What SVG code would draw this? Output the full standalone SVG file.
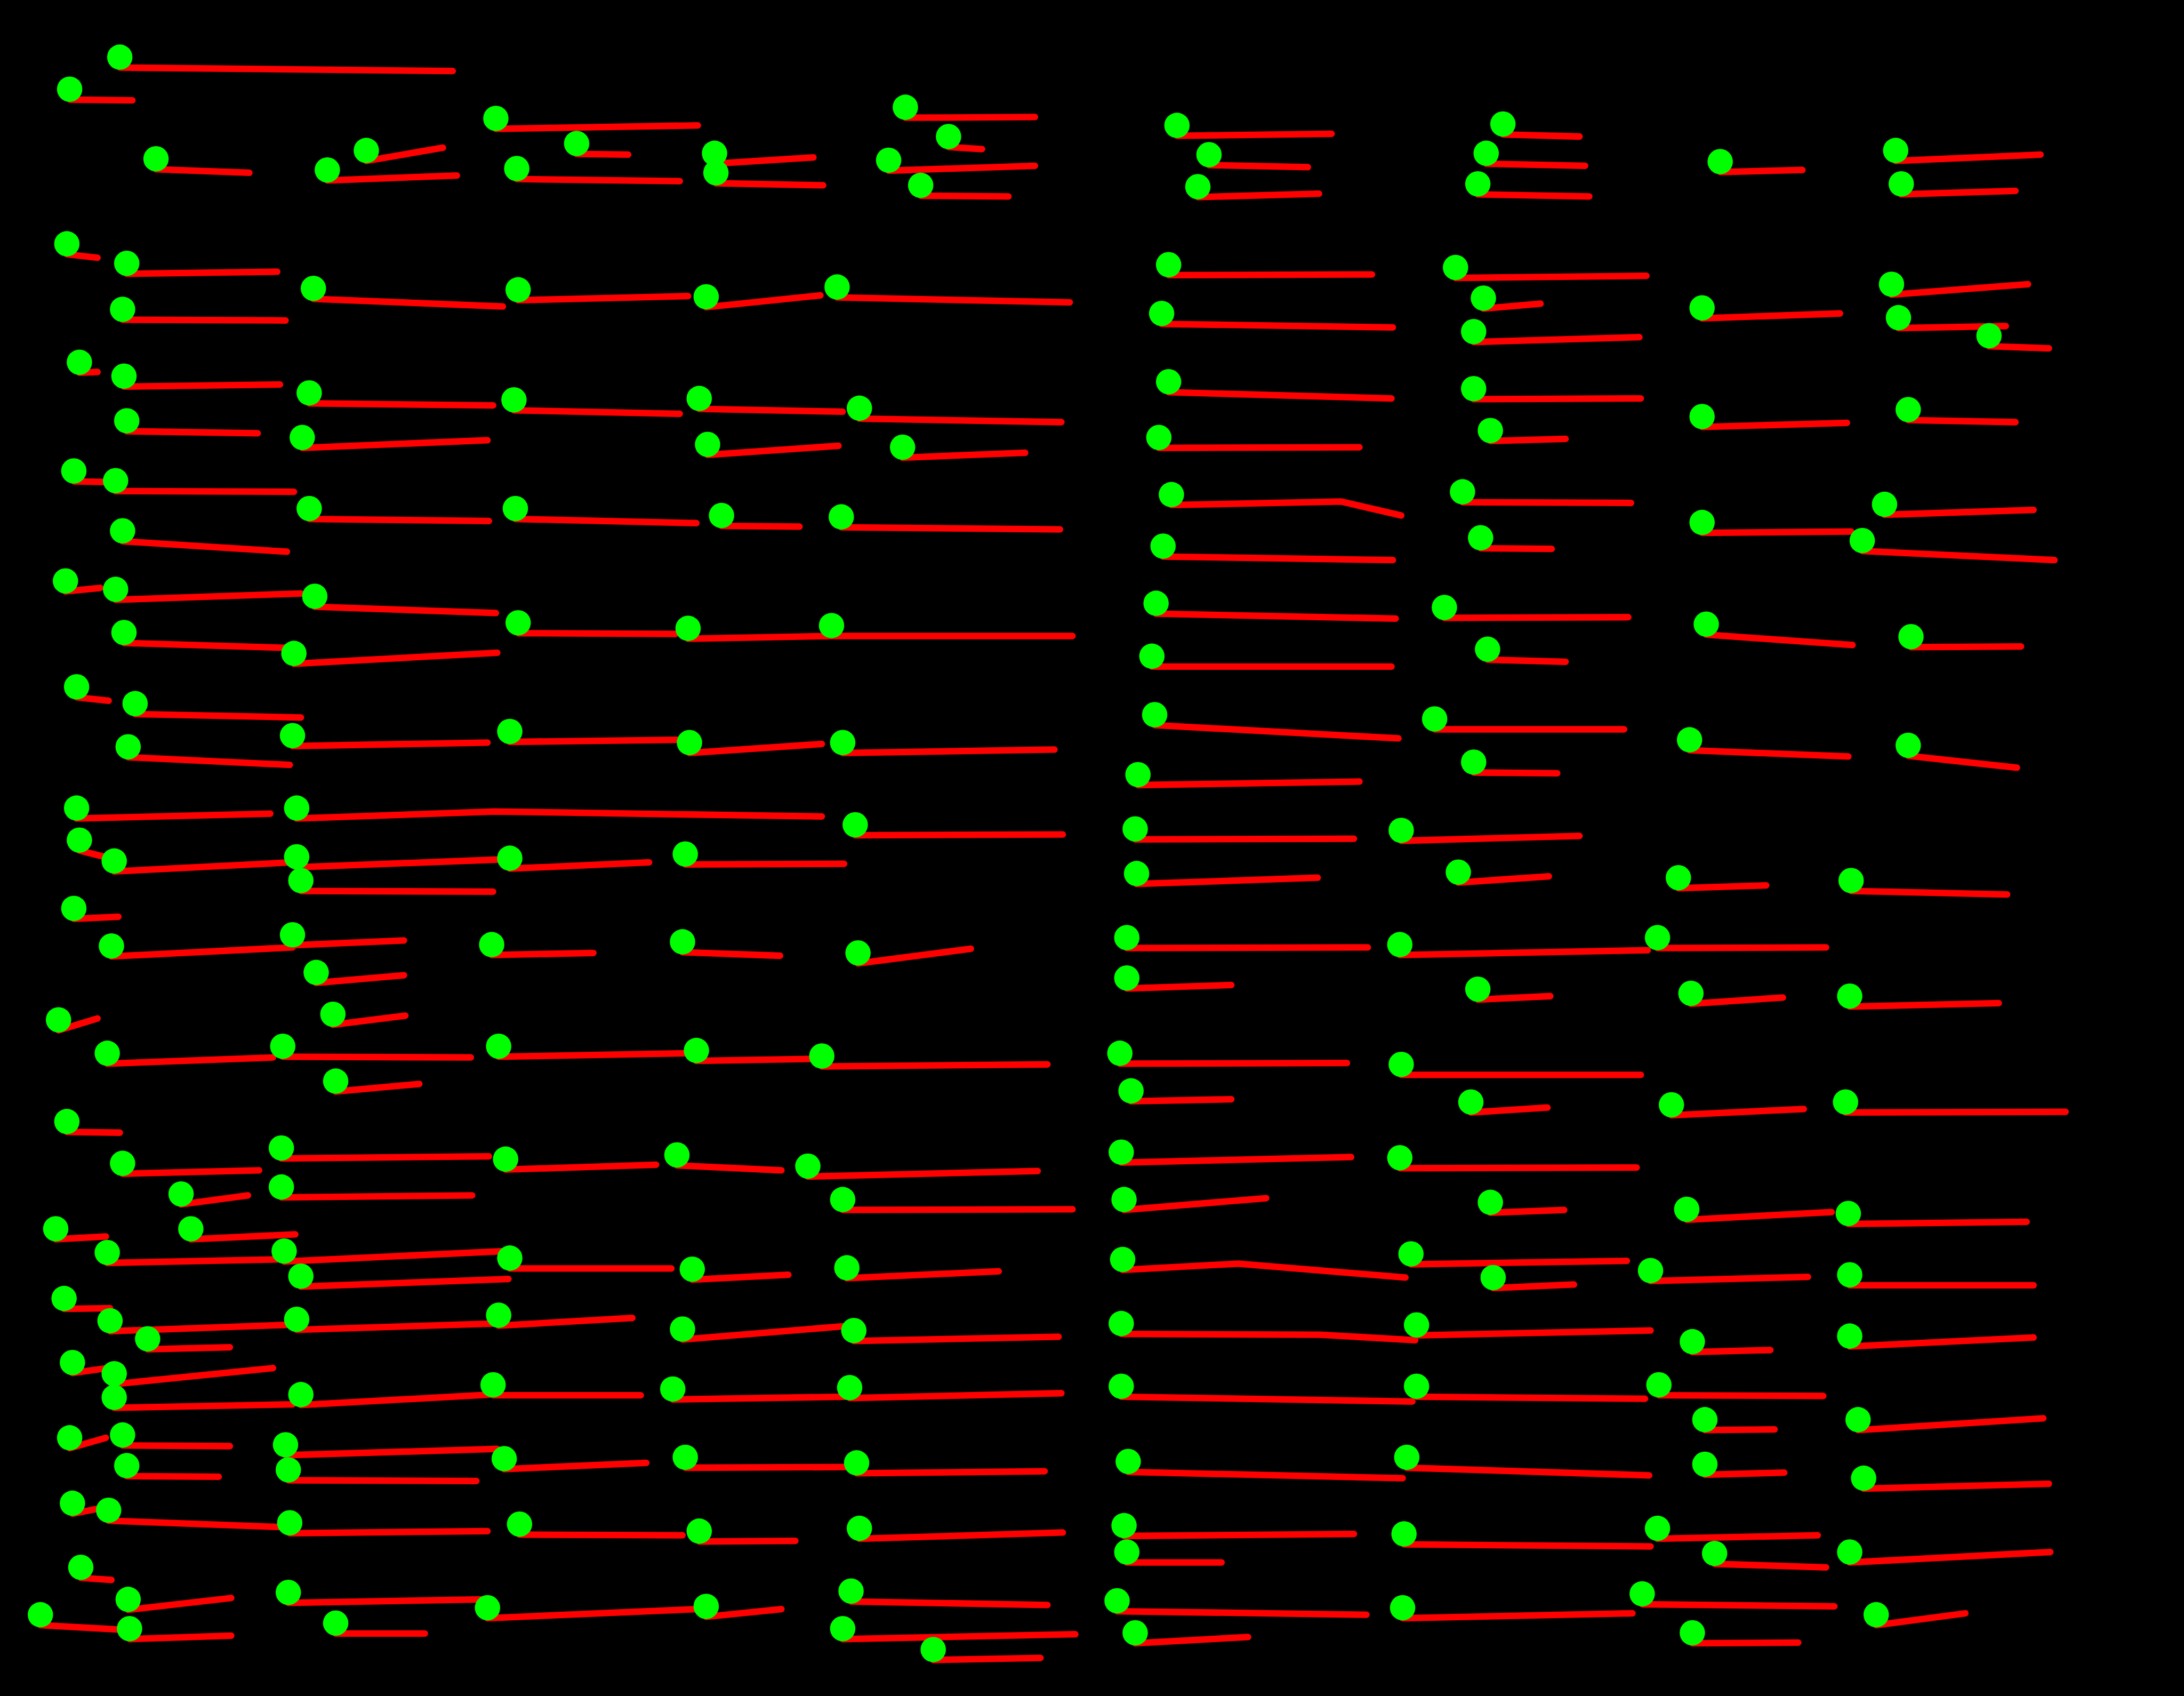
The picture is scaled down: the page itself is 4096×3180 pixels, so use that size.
<svg xmlns="http://www.w3.org/2000/svg" width="4096" height="3180" viewBox="0 0 4096 3180">
<style>
.l{fill:none;stroke:#ff0000;stroke-width:4.7;stroke-linecap:round;stroke-linejoin:round}
.c{fill:#00ff00}
</style>
<rect x="0" y="0" width="4096" height="3180" fill="#000000"/>
<g id="connectors" transform="scale(2.612245)">
<path class="l" d="M86 48.5L325 51"/><path class="l" d="M50 71.5L95 72"/><path class="l" d="M112 121.5L179 124"/><path class="l" d="M235 129.5L328 126"/><path class="l" d="M263 115.5L318 106"/><path class="l" d="M356 92.5L501 90"/><path class="l" d="M371 128.5L488 130"/><path class="l" d="M414 110.5L451 111"/><path class="l" d="M513 117.5L584 113"/><path class="l" d="M514 131.5L591 133"/><path class="l" d="M650 84.5L743 84"/><path class="l" d="M681 105.5L705 107"/><path class="l" d="M638 122.5L743 119"/><path class="l" d="M661 140.5L724 141"/><path class="l" d="M845 97.5L956 96"/><path class="l" d="M868 118.5L939 120"/><path class="l" d="M860 141.5L947 139"/><path class="l" d="M1079 96.5L1134 98"/><path class="l" d="M1067 117.5L1138 119"/><path class="l" d="M1061 139.5L1141 141"/><path class="l" d="M1235 123.5L1294 122"/><path class="l" d="M1361 115.5L1465 111"/><path class="l" d="M1365 139.5L1447 137"/>
<path class="l" d="M48 182.5L70 185"/><path class="l" d="M91 196.5L199 195"/><path class="l" d="M88 229.5L205 230"/><path class="l" d="M225 214.5L361 220"/><path class="l" d="M372 215.5L494 212.5"/><path class="l" d="M507 220.5L589 212"/><path class="l" d="M601 213.5L768 217"/><path class="l" d="M839 197.5L985 197"/><path class="l" d="M834 232.5L1000 235"/><path class="l" d="M1045 199.5L1182 198"/><path class="l" d="M1065 221.5L1106 218"/><path class="l" d="M1058 245.5L1177 242"/><path class="l" d="M1222 228.5L1321 225"/><path class="l" d="M1358 211.5L1456 204"/><path class="l" d="M1363 235.5L1440 234"/><path class="l" d="M1428 248.5L1471 250"/>
<path class="l" d="M57 267.5L70 267"/><path class="l" d="M89 277.5L201 276"/><path class="l" d="M91 309.5L185 311"/><path class="l" d="M222 289.5L354 291"/><path class="l" d="M217 321.5L350 316"/><path class="l" d="M369 294.5L488 297"/><path class="l" d="M502 293.5L605 295.5"/><path class="l" d="M617 300.5L762 303"/><path class="l" d="M508 326.5L602 320"/><path class="l" d="M648 328.5L736 325"/><path class="l" d="M839 281.5L999 286"/><path class="l" d="M832 321.5L976 321"/><path class="l" d="M1058 286.5L1178 286"/><path class="l" d="M1070 316.5L1124 315"/><path class="l" d="M1222 306.5L1326 303.5"/><path class="l" d="M1370 301.5L1447 303"/>
<path class="l" d="M53 345.5L78 346"/><path class="l" d="M83 352.5L211 353"/><path class="l" d="M88 388.5L206 396"/><path class="l" d="M222 372.5L351 374"/><path class="l" d="M370 372.5L500 375.5"/><path class="l" d="M518 377.5L574 378"/><path class="l" d="M604 378.5L761 380"/><path class="l" d="M841 362.5L963 360L1006 370"/><path class="l" d="M835 399.5L1000 402"/><path class="l" d="M1050 360.5L1171 361"/><path class="l" d="M1063 393.5L1114 394"/><path class="l" d="M1222 382.5L1329 381.5"/><path class="l" d="M1353 369.5L1460 366"/><path class="l" d="M1337 395.5L1475 402"/>
<path class="l" d="M47 424.5L72 422"/><path class="l" d="M83 430.5L216 426"/><path class="l" d="M89 461.5L205 465"/><path class="l" d="M226 435.5L356 440"/><path class="l" d="M211 476.5L357 468.5"/><path class="l" d="M372 454.5L485 455"/><path class="l" d="M494 458.5L597 456.5"/><path class="l" d="M597 456.5L770 456.5"/><path class="l" d="M830 440.5L1002 444"/><path class="l" d="M827 478.5L999 478.5"/><path class="l" d="M1037 443.5L1169 443"/><path class="l" d="M1068 473.5L1124 475"/><path class="l" d="M1225 455.5L1330 463"/><path class="l" d="M1372 464.5L1451 464"/>
<path class="l" d="M55 500.5L78 503"/><path class="l" d="M97 512.5L216 515"/><path class="l" d="M92 543.5L208 549"/><path class="l" d="M210 535.5L350 533"/><path class="l" d="M366 532.5L487 531"/><path class="l" d="M495 540.5L590 534"/><path class="l" d="M605 540.5L757 538"/><path class="l" d="M829 520.5L1004 530"/><path class="l" d="M817 563.5L976 561"/><path class="l" d="M1030 523.5L1166 523.5"/><path class="l" d="M1058 554.5L1118 555"/><path class="l" d="M1213 538.5L1327 543"/><path class="l" d="M1370 542.5L1448 551"/>
<path class="l" d="M55 587.5L194 584"/><path class="l" d="M213 587.5L355 582.5L590 586"/><path class="l" d="M614 599.5L763 599"/><path class="l" d="M57 610.5L75 615"/><path class="l" d="M82 625.5L209 619"/><path class="l" d="M213 622.5L357 617"/><path class="l" d="M366 623.5L466 619"/><path class="l" d="M216 639.5L354 640"/><path class="l" d="M492 620.5L606 620"/><path class="l" d="M53 659.5L85 658"/><path class="l" d="M815 602.5L972 602"/><path class="l" d="M1006 603.5L1134 600"/><path class="l" d="M816 634.5L946 630"/><path class="l" d="M1047 633.5L1112 629"/><path class="l" d="M1205 637.5L1268 635.5"/><path class="l" d="M1329 639.5L1441 642"/>
<path class="l" d="M80 686.5L210 680"/><path class="l" d="M210 678.5L290 675"/><path class="l" d="M227 705.5L290 700"/><path class="l" d="M353 685.5L426 684"/><path class="l" d="M490 683.5L560 686"/><path class="l" d="M616 691.5L697 681"/><path class="l" d="M42 739.5L70 731"/><path class="l" d="M239 735.5L291 729"/><path class="l" d="M809 680.5L982 680"/><path class="l" d="M1005 685.5L1183 682"/><path class="l" d="M1190 680.5L1311 680"/><path class="l" d="M809 709.5L884 707"/><path class="l" d="M1061 717.5L1113 715"/><path class="l" d="M1214 720.5L1280 716"/><path class="l" d="M1328 722.5L1435 720"/>
<path class="l" d="M77 763.5L196 759"/><path class="l" d="M203 758.5L338 759"/><path class="l" d="M358 758.5L492 756"/><path class="l" d="M500 761.5L585 760"/><path class="l" d="M590 765.5L752 764"/><path class="l" d="M241 783.5L301 778"/><path class="l" d="M48 812.5L86 813"/><path class="l" d="M804 763.5L967 763"/><path class="l" d="M1006 771.5L1178 771.5"/><path class="l" d="M812 790.5L884 789"/><path class="l" d="M1056 798.5L1111 795"/><path class="l" d="M1200 800.5L1295 796"/><path class="l" d="M1325 798.5L1483 798"/>
<path class="l" d="M88 842.5L186 840"/><path class="l" d="M202 831.5L351 830"/><path class="l" d="M363 839.5L471 836"/><path class="l" d="M486 836.5L561 840"/><path class="l" d="M580 844.5L745 840.5"/><path class="l" d="M202 859.5L339 858"/><path class="l" d="M130 864.5L178 858"/><path class="l" d="M40 889.5L76 887.5"/><path class="l" d="M137 889.5L212 886"/><path class="l" d="M805 834.5L970 830.5"/><path class="l" d="M1005 838.5L1175 838"/><path class="l" d="M807 868.5L909 860"/><path class="l" d="M1070 870.5L1123 868.5"/><path class="l" d="M1211 875.5L1315 870"/><path class="l" d="M1327 878.5L1455 877"/><path class="l" d="M605 868.5L770 868"/>
<path class="l" d="M77 906.5L199 904"/><path class="l" d="M204 905.5L362 898"/><path class="l" d="M366 910.5L482 910.5"/><path class="l" d="M216 923.5L365 918"/><path class="l" d="M497 918.5L566 915"/><path class="l" d="M608 917.5L717 912.5"/><path class="l" d="M46 939.5L79 939"/><path class="l" d="M806 911.5L889 907L1009 917"/><path class="l" d="M1013 907.5L1168 905"/><path class="l" d="M1072 924.5L1130 922"/><path class="l" d="M1185 919.5L1298 916.5"/><path class="l" d="M1328 922.5L1460 922.5"/>
<path class="l" d="M79 955.5L205 951"/><path class="l" d="M213 954.5L355 950"/><path class="l" d="M358 951.5L454 946"/><path class="l" d="M106 968.5L165 967"/><path class="l" d="M52 985.5L77 982"/><path class="l" d="M82 993.5L196 982"/><path class="l" d="M82 1010.5L210 1008"/><path class="l" d="M216 1008.5L352 1001"/><path class="l" d="M354 1001.5L460 1001.5"/><path class="l" d="M483 1004.5L607 1002.5"/><path class="l" d="M610 1003.5L762 1000"/><path class="l" d="M490 961.5L605 952"/><path class="l" d="M613 962.5L760 959.5"/><path class="l" d="M50 1039.5L76 1032"/><path class="l" d="M88 1037.5L165 1038"/><path class="l" d="M91 1059.5L157 1060"/><path class="l" d="M205 1044.5L357 1040"/><path class="l" d="M207 1062.5L342 1063"/><path class="l" d="M362 1054.5L464 1050"/><path class="l" d="M492 1053.5L610 1053"/><path class="l" d="M615 1057.5L750 1056"/>
<path class="l" d="M805 957.5L948 958L1016 962"/><path class="l" d="M1017 958.5L1185 955"/><path class="l" d="M1215 970.5L1271 969"/><path class="l" d="M1328 966.5L1460 960"/><path class="l" d="M805 1002.5L1014 1006"/><path class="l" d="M1017 1002.5L1181 1004"/><path class="l" d="M1191 1001.5L1309 1002"/><path class="l" d="M1224 1026.5L1274 1026"/><path class="l" d="M1334 1026.5L1467 1018"/><path class="l" d="M810 1056.5L1007 1061"/><path class="l" d="M1010 1053.5L1184 1059"/><path class="l" d="M1224 1058.5L1281 1057"/><path class="l" d="M1338 1068.5L1471 1065"/>
<path class="l" d="M52 1086.5L70 1083"/><path class="l" d="M78 1091.5L200 1096"/><path class="l" d="M208 1100.5L350 1099"/><path class="l" d="M373 1101.5L490 1102"/><path class="l" d="M502 1106.5L571 1106"/><path class="l" d="M617 1104.5L763 1100"/><path class="l" d="M58 1132.5L80 1134"/><path class="l" d="M92 1155.5L166 1147"/><path class="l" d="M29 1166.5L92 1170"/><path class="l" d="M93 1176.5L166 1174"/><path class="l" d="M207 1150.5L345 1148"/><path class="l" d="M241 1172.5L305 1172.5"/><path class="l" d="M350 1161.5L500 1155"/><path class="l" d="M507 1160.5L561 1155"/><path class="l" d="M611 1149.5L752 1152"/><path class="l" d="M605 1176.5L772 1173"/><path class="l" d="M670 1191.5L747 1190"/><path class="l" d="M807 1102.5L972 1101"/><path class="l" d="M1008 1108.5L1185 1110"/><path class="l" d="M1190 1104.5L1305 1102"/><path class="l" d="M809 1121.5L877 1121.5"/><path class="l" d="M1231 1122.5L1311 1125"/><path class="l" d="M1328 1121.5L1472 1114"/><path class="l" d="M802 1156.5L981 1159"/><path class="l" d="M1007 1161.5L1172 1158"/><path class="l" d="M1179 1151.5L1317 1153"/><path class="l" d="M1347 1166.5L1411 1158"/><path class="l" d="M815 1179.5L896 1175"/><path class="l" d="M1215 1179.5L1291 1179"/>
</g>
<g id="nodes" transform="scale(2.612245)">
<g id="n1"><circle class="c" cx="86" cy="41" r="9.1"/></g>
<g id="n2"><circle class="c" cx="50" cy="64" r="9.1"/></g>
<g id="n3"><circle class="c" cx="112" cy="114" r="9.1"/></g>
<g id="n4"><circle class="c" cx="235" cy="122" r="9.1"/></g>
<g id="n5"><circle class="c" cx="263" cy="108" r="9.1"/></g>
<g id="n6"><circle class="c" cx="356" cy="85" r="9.1"/></g>
<g id="n7"><circle class="c" cx="371" cy="121" r="9.1"/></g>
<g id="n8"><circle class="c" cx="414" cy="103" r="9.1"/></g>
<g id="n9"><circle class="c" cx="513" cy="110" r="9.1"/></g>
<g id="n10"><circle class="c" cx="514" cy="124" r="9.1"/></g>
<g id="n11"><circle class="c" cx="650" cy="77" r="9.1"/></g>
<g id="n12"><circle class="c" cx="681" cy="98" r="9.1"/></g>
<g id="n13"><circle class="c" cx="638" cy="115" r="9.1"/></g>
<g id="n14"><circle class="c" cx="661" cy="133" r="9.1"/></g>
<g id="n15"><circle class="c" cx="845" cy="90" r="9.1"/></g>
<g id="n16"><circle class="c" cx="868" cy="111" r="9.1"/></g>
<g id="n17"><circle class="c" cx="860" cy="134" r="9.1"/></g>
<g id="n18"><circle class="c" cx="1079" cy="89" r="9.1"/></g>
<g id="n19"><circle class="c" cx="1067" cy="110" r="9.1"/></g>
<g id="n20"><circle class="c" cx="1061" cy="132" r="9.1"/></g>
<g id="n21"><circle class="c" cx="1235" cy="116" r="9.1"/></g>
<g id="n22"><circle class="c" cx="1361" cy="108" r="9.1"/></g>
<g id="n23"><circle class="c" cx="1365" cy="132" r="9.1"/></g>
<g id="n24"><circle class="c" cx="48" cy="175" r="9.1"/></g>
<g id="n25"><circle class="c" cx="91" cy="189" r="9.1"/></g>
<g id="n26"><circle class="c" cx="88" cy="222" r="9.1"/></g>
<g id="n27"><circle class="c" cx="225" cy="207" r="9.1"/></g>
<g id="n28"><circle class="c" cx="372" cy="208" r="9.1"/></g>
<g id="n29"><circle class="c" cx="507" cy="213" r="9.1"/></g>
<g id="n30"><circle class="c" cx="601" cy="206" r="9.1"/></g>
<g id="n31"><circle class="c" cx="839" cy="190" r="9.1"/></g>
<g id="n32"><circle class="c" cx="834" cy="225" r="9.1"/></g>
<g id="n33"><circle class="c" cx="1045" cy="192" r="9.1"/></g>
<g id="n34"><circle class="c" cx="1065" cy="214" r="9.1"/></g>
<g id="n35"><circle class="c" cx="1058" cy="238" r="9.1"/></g>
<g id="n36"><circle class="c" cx="1222" cy="221" r="9.1"/></g>
<g id="n37"><circle class="c" cx="1358" cy="204" r="9.1"/></g>
<g id="n38"><circle class="c" cx="1363" cy="228" r="9.1"/></g>
<g id="n39"><circle class="c" cx="1428" cy="241" r="9.1"/></g>
<g id="n40"><circle class="c" cx="57" cy="260" r="9.1"/></g>
<g id="n41"><circle class="c" cx="89" cy="270" r="9.1"/></g>
<g id="n42"><circle class="c" cx="91" cy="302" r="9.1"/></g>
<g id="n43"><circle class="c" cx="222" cy="282" r="9.1"/></g>
<g id="n44"><circle class="c" cx="217" cy="314" r="9.1"/></g>
<g id="n45"><circle class="c" cx="369" cy="287" r="9.1"/></g>
<g id="n46"><circle class="c" cx="502" cy="286" r="9.1"/></g>
<g id="n47"><circle class="c" cx="617" cy="293" r="9.1"/></g>
<g id="n48"><circle class="c" cx="508" cy="319" r="9.1"/></g>
<g id="n49"><circle class="c" cx="648" cy="321" r="9.1"/></g>
<g id="n50"><circle class="c" cx="839" cy="274" r="9.1"/></g>
<g id="n51"><circle class="c" cx="832" cy="314" r="9.1"/></g>
<g id="n52"><circle class="c" cx="1058" cy="279" r="9.1"/></g>
<g id="n53"><circle class="c" cx="1070" cy="309" r="9.1"/></g>
<g id="n54"><circle class="c" cx="1222" cy="299" r="9.1"/></g>
<g id="n55"><circle class="c" cx="1370" cy="294" r="9.1"/></g>
<g id="n56"><circle class="c" cx="53" cy="338" r="9.1"/></g>
<g id="n57"><circle class="c" cx="83" cy="345" r="9.1"/></g>
<g id="n58"><circle class="c" cx="88" cy="381" r="9.1"/></g>
<g id="n59"><circle class="c" cx="222" cy="365" r="9.1"/></g>
<g id="n60"><circle class="c" cx="370" cy="365" r="9.1"/></g>
<g id="n61"><circle class="c" cx="518" cy="370" r="9.1"/></g>
<g id="n62"><circle class="c" cx="604" cy="371" r="9.1"/></g>
<g id="n63"><circle class="c" cx="841" cy="355" r="9.1"/></g>
<g id="n64"><circle class="c" cx="835" cy="392" r="9.1"/></g>
<g id="n65"><circle class="c" cx="1050" cy="353" r="9.1"/></g>
<g id="n66"><circle class="c" cx="1063" cy="386" r="9.1"/></g>
<g id="n67"><circle class="c" cx="1222" cy="375" r="9.1"/></g>
<g id="n68"><circle class="c" cx="1353" cy="362" r="9.1"/></g>
<g id="n69"><circle class="c" cx="1337" cy="388" r="9.1"/></g>
<g id="n70"><circle class="c" cx="47" cy="417" r="9.1"/></g>
<g id="n71"><circle class="c" cx="83" cy="423" r="9.1"/></g>
<g id="n72"><circle class="c" cx="89" cy="454" r="9.1"/></g>
<g id="n73"><circle class="c" cx="226" cy="428" r="9.1"/></g>
<g id="n74"><circle class="c" cx="211" cy="469" r="9.1"/></g>
<g id="n75"><circle class="c" cx="372" cy="447" r="9.1"/></g>
<g id="n76"><circle class="c" cx="494" cy="451" r="9.1"/></g>
<g id="n77"><circle class="c" cx="597" cy="449" r="9.1"/></g>
<g id="n78"><circle class="c" cx="830" cy="433" r="9.1"/></g>
<g id="n79"><circle class="c" cx="827" cy="471" r="9.1"/></g>
<g id="n80"><circle class="c" cx="1037" cy="436" r="9.1"/></g>
<g id="n81"><circle class="c" cx="1068" cy="466" r="9.1"/></g>
<g id="n82"><circle class="c" cx="1225" cy="448" r="9.1"/></g>
<g id="n83"><circle class="c" cx="1372" cy="457" r="9.1"/></g>
<g id="n84"><circle class="c" cx="55" cy="493" r="9.1"/></g>
<g id="n85"><circle class="c" cx="97" cy="505" r="9.1"/></g>
<g id="n86"><circle class="c" cx="92" cy="536" r="9.1"/></g>
<g id="n87"><circle class="c" cx="210" cy="528" r="9.1"/></g>
<g id="n88"><circle class="c" cx="366" cy="525" r="9.1"/></g>
<g id="n89"><circle class="c" cx="495" cy="533" r="9.1"/></g>
<g id="n90"><circle class="c" cx="605" cy="533" r="9.1"/></g>
<g id="n91"><circle class="c" cx="829" cy="513" r="9.1"/></g>
<g id="n92"><circle class="c" cx="817" cy="556" r="9.1"/></g>
<g id="n93"><circle class="c" cx="1030" cy="516" r="9.1"/></g>
<g id="n94"><circle class="c" cx="1058" cy="547" r="9.1"/></g>
<g id="n95"><circle class="c" cx="1213" cy="531" r="9.1"/></g>
<g id="n96"><circle class="c" cx="1370" cy="535" r="9.1"/></g>
<g id="n97"><circle class="c" cx="55" cy="580" r="9.1"/></g>
<g id="n98"><circle class="c" cx="213" cy="580" r="9.1"/></g>
<g id="n99"><circle class="c" cx="614" cy="592" r="9.1"/></g>
<g id="n100"><circle class="c" cx="57" cy="603" r="9.1"/></g>
<g id="n101"><circle class="c" cx="82" cy="618" r="9.1"/></g>
<g id="n102"><circle class="c" cx="213" cy="615" r="9.1"/></g>
<g id="n103"><circle class="c" cx="366" cy="616" r="9.1"/></g>
<g id="n104"><circle class="c" cx="216" cy="632" r="9.1"/></g>
<g id="n105"><circle class="c" cx="492" cy="613" r="9.1"/></g>
<g id="n106"><circle class="c" cx="53" cy="652" r="9.1"/></g>
<g id="n107"><circle class="c" cx="815" cy="595" r="9.1"/></g>
<g id="n108"><circle class="c" cx="1006" cy="596" r="9.1"/></g>
<g id="n109"><circle class="c" cx="816" cy="627" r="9.1"/></g>
<g id="n110"><circle class="c" cx="1047" cy="626" r="9.1"/></g>
<g id="n111"><circle class="c" cx="1205" cy="630" r="9.1"/></g>
<g id="n112"><circle class="c" cx="1329" cy="632" r="9.1"/></g>
<g id="n113"><circle class="c" cx="80" cy="679" r="9.1"/></g>
<g id="n114"><circle class="c" cx="210" cy="671" r="9.1"/></g>
<g id="n115"><circle class="c" cx="227" cy="698" r="9.1"/></g>
<g id="n116"><circle class="c" cx="353" cy="678" r="9.1"/></g>
<g id="n117"><circle class="c" cx="490" cy="676" r="9.1"/></g>
<g id="n118"><circle class="c" cx="616" cy="684" r="9.1"/></g>
<g id="n119"><circle class="c" cx="42" cy="732" r="9.1"/></g>
<g id="n120"><circle class="c" cx="239" cy="728" r="9.1"/></g>
<g id="n121"><circle class="c" cx="809" cy="673" r="9.1"/></g>
<g id="n122"><circle class="c" cx="1005" cy="678" r="9.1"/></g>
<g id="n123"><circle class="c" cx="1190" cy="673" r="9.1"/></g>
<g id="n124"><circle class="c" cx="809" cy="702" r="9.1"/></g>
<g id="n125"><circle class="c" cx="1061" cy="710" r="9.1"/></g>
<g id="n126"><circle class="c" cx="1214" cy="713" r="9.1"/></g>
<g id="n127"><circle class="c" cx="1328" cy="715" r="9.1"/></g>
<g id="n128"><circle class="c" cx="77" cy="756" r="9.1"/></g>
<g id="n129"><circle class="c" cx="203" cy="751" r="9.1"/></g>
<g id="n130"><circle class="c" cx="358" cy="751" r="9.1"/></g>
<g id="n131"><circle class="c" cx="500" cy="754" r="9.1"/></g>
<g id="n132"><circle class="c" cx="590" cy="758" r="9.1"/></g>
<g id="n133"><circle class="c" cx="241" cy="776" r="9.1"/></g>
<g id="n134"><circle class="c" cx="48" cy="805" r="9.1"/></g>
<g id="n135"><circle class="c" cx="804" cy="756" r="9.1"/></g>
<g id="n136"><circle class="c" cx="1006" cy="764" r="9.1"/></g>
<g id="n137"><circle class="c" cx="812" cy="783" r="9.1"/></g>
<g id="n138"><circle class="c" cx="1056" cy="791" r="9.1"/></g>
<g id="n139"><circle class="c" cx="1200" cy="793" r="9.1"/></g>
<g id="n140"><circle class="c" cx="1325" cy="791" r="9.1"/></g>
<g id="n141"><circle class="c" cx="88" cy="835" r="9.1"/></g>
<g id="n142"><circle class="c" cx="202" cy="824" r="9.1"/></g>
<g id="n143"><circle class="c" cx="363" cy="832" r="9.1"/></g>
<g id="n144"><circle class="c" cx="486" cy="829" r="9.1"/></g>
<g id="n145"><circle class="c" cx="580" cy="837" r="9.1"/></g>
<g id="n146"><circle class="c" cx="202" cy="852" r="9.1"/></g>
<g id="n147"><circle class="c" cx="130" cy="857" r="9.1"/></g>
<g id="n148"><circle class="c" cx="40" cy="882" r="9.1"/></g>
<g id="n149"><circle class="c" cx="137" cy="882" r="9.1"/></g>
<g id="n150"><circle class="c" cx="805" cy="827" r="9.1"/></g>
<g id="n151"><circle class="c" cx="1005" cy="831" r="9.1"/></g>
<g id="n152"><circle class="c" cx="807" cy="861" r="9.1"/></g>
<g id="n153"><circle class="c" cx="1070" cy="863" r="9.1"/></g>
<g id="n154"><circle class="c" cx="1211" cy="868" r="9.1"/></g>
<g id="n155"><circle class="c" cx="1327" cy="871" r="9.1"/></g>
<g id="n156"><circle class="c" cx="605" cy="861" r="9.1"/></g>
<g id="n157"><circle class="c" cx="77" cy="899" r="9.1"/></g>
<g id="n158"><circle class="c" cx="204" cy="898" r="9.1"/></g>
<g id="n159"><circle class="c" cx="366" cy="903" r="9.1"/></g>
<g id="n160"><circle class="c" cx="216" cy="916" r="9.1"/></g>
<g id="n161"><circle class="c" cx="497" cy="911" r="9.1"/></g>
<g id="n162"><circle class="c" cx="608" cy="910" r="9.1"/></g>
<g id="n163"><circle class="c" cx="46" cy="932" r="9.1"/></g>
<g id="n164"><circle class="c" cx="806" cy="904" r="9.1"/></g>
<g id="n165"><circle class="c" cx="1013" cy="900" r="9.1"/></g>
<g id="n166"><circle class="c" cx="1072" cy="917" r="9.1"/></g>
<g id="n167"><circle class="c" cx="1185" cy="912" r="9.1"/></g>
<g id="n168"><circle class="c" cx="1328" cy="915" r="9.1"/></g>
<g id="n169"><circle class="c" cx="79" cy="948" r="9.1"/></g>
<g id="n170"><circle class="c" cx="213" cy="947" r="9.1"/></g>
<g id="n171"><circle class="c" cx="358" cy="944" r="9.1"/></g>
<g id="n172"><circle class="c" cx="106" cy="961" r="9.1"/></g>
<g id="n173"><circle class="c" cx="52" cy="978" r="9.1"/></g>
<g id="n174"><circle class="c" cx="82" cy="986" r="9.1"/></g>
<g id="n175"><circle class="c" cx="82" cy="1003" r="9.1"/></g>
<g id="n176"><circle class="c" cx="216" cy="1001" r="9.1"/></g>
<g id="n177"><circle class="c" cx="354" cy="994" r="9.1"/></g>
<g id="n178"><circle class="c" cx="483" cy="997" r="9.1"/></g>
<g id="n179"><circle class="c" cx="610" cy="996" r="9.1"/></g>
<g id="n180"><circle class="c" cx="490" cy="954" r="9.1"/></g>
<g id="n181"><circle class="c" cx="613" cy="955" r="9.1"/></g>
<g id="n182"><circle class="c" cx="50" cy="1032" r="9.1"/></g>
<g id="n183"><circle class="c" cx="88" cy="1030" r="9.1"/></g>
<g id="n184"><circle class="c" cx="91" cy="1052" r="9.1"/></g>
<g id="n185"><circle class="c" cx="205" cy="1037" r="9.1"/></g>
<g id="n186"><circle class="c" cx="207" cy="1055" r="9.1"/></g>
<g id="n187"><circle class="c" cx="362" cy="1047" r="9.1"/></g>
<g id="n188"><circle class="c" cx="492" cy="1046" r="9.1"/></g>
<g id="n189"><circle class="c" cx="615" cy="1050" r="9.1"/></g>
<g id="n190"><circle class="c" cx="805" cy="950" r="9.1"/></g>
<g id="n191"><circle class="c" cx="1017" cy="951" r="9.1"/></g>
<g id="n192"><circle class="c" cx="1215" cy="963" r="9.1"/></g>
<g id="n193"><circle class="c" cx="1328" cy="959" r="9.1"/></g>
<g id="n194"><circle class="c" cx="805" cy="995" r="9.1"/></g>
<g id="n195"><circle class="c" cx="1017" cy="995" r="9.1"/></g>
<g id="n196"><circle class="c" cx="1191" cy="994" r="9.1"/></g>
<g id="n197"><circle class="c" cx="1224" cy="1019" r="9.1"/></g>
<g id="n198"><circle class="c" cx="1334" cy="1019" r="9.1"/></g>
<g id="n199"><circle class="c" cx="810" cy="1049" r="9.1"/></g>
<g id="n200"><circle class="c" cx="1010" cy="1046" r="9.1"/></g>
<g id="n201"><circle class="c" cx="1224" cy="1051" r="9.1"/></g>
<g id="n202"><circle class="c" cx="1338" cy="1061" r="9.1"/></g>
<g id="n203"><circle class="c" cx="52" cy="1079" r="9.1"/></g>
<g id="n204"><circle class="c" cx="78" cy="1084" r="9.1"/></g>
<g id="n205"><circle class="c" cx="208" cy="1093" r="9.1"/></g>
<g id="n206"><circle class="c" cx="373" cy="1094" r="9.1"/></g>
<g id="n207"><circle class="c" cx="502" cy="1099" r="9.1"/></g>
<g id="n208"><circle class="c" cx="617" cy="1097" r="9.1"/></g>
<g id="n209"><circle class="c" cx="58" cy="1125" r="9.1"/></g>
<g id="n210"><circle class="c" cx="92" cy="1148" r="9.1"/></g>
<g id="n211"><circle class="c" cx="29" cy="1159" r="9.1"/></g>
<g id="n212"><circle class="c" cx="93" cy="1169" r="9.1"/></g>
<g id="n213"><circle class="c" cx="207" cy="1143" r="9.1"/></g>
<g id="n214"><circle class="c" cx="241" cy="1165" r="9.1"/></g>
<g id="n215"><circle class="c" cx="350" cy="1154" r="9.1"/></g>
<g id="n216"><circle class="c" cx="507" cy="1153" r="9.1"/></g>
<g id="n217"><circle class="c" cx="611" cy="1142" r="9.1"/></g>
<g id="n218"><circle class="c" cx="605" cy="1169" r="9.1"/></g>
<g id="n219"><circle class="c" cx="670" cy="1184" r="9.1"/></g>
<g id="n220"><circle class="c" cx="807" cy="1095" r="9.1"/></g>
<g id="n221"><circle class="c" cx="1008" cy="1101" r="9.1"/></g>
<g id="n222"><circle class="c" cx="1190" cy="1097" r="9.1"/></g>
<g id="n223"><circle class="c" cx="809" cy="1114" r="9.1"/></g>
<g id="n224"><circle class="c" cx="1231" cy="1115" r="9.1"/></g>
<g id="n225"><circle class="c" cx="1328" cy="1114" r="9.1"/></g>
<g id="n226"><circle class="c" cx="802" cy="1149" r="9.1"/></g>
<g id="n227"><circle class="c" cx="1007" cy="1154" r="9.1"/></g>
<g id="n228"><circle class="c" cx="1179" cy="1144" r="9.1"/></g>
<g id="n229"><circle class="c" cx="1347" cy="1159" r="9.1"/></g>
<g id="n230"><circle class="c" cx="815" cy="1172" r="9.1"/></g>
<g id="n231"><circle class="c" cx="1215" cy="1172" r="9.1"/></g>
</g>
</svg>
